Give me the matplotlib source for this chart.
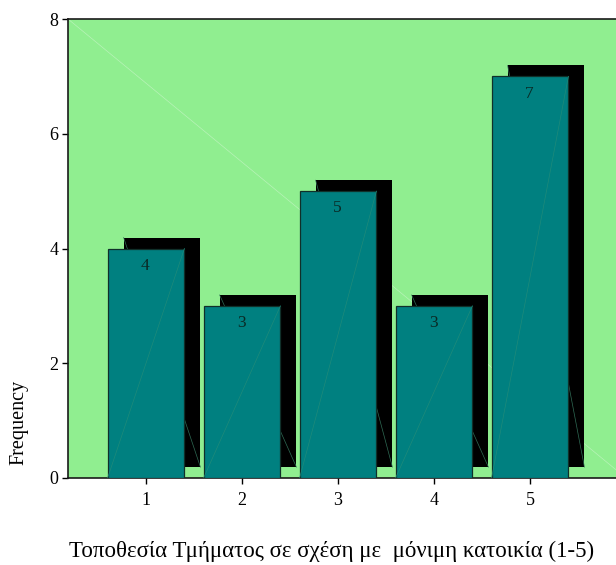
import matplotlib
matplotlib.use("Agg")
import matplotlib.pyplot as plt
from matplotlib.patches import Rectangle

# ── Data ──────────────────────────────────────────────────────────────────────
categories = [1, 2, 3, 4, 5]
frequencies = [4, 3, 5, 3, 7]
yticks = [0, 2, 4, 6, 8]
xlabel = "Τοποθεσία Τμήματος σε σχέση με  μόνιμη κατοικία (1-5)"
ylabel = "Frequency"

# ── Style ─────────────────────────────────────────────────────────────────────
plt.rcParams["font.family"] = ["Liberation Serif", "DejaVu Serif"]
BG = "#90ee90"
BAR = "#008080"
BAR_W = 0.8
SH_DX, SH_DY = 0.167, 0.19   # shadow offset (data units)

fig = plt.figure(figsize=(6.16, 5.65), dpi=100)
ax = fig.add_axes([68 / 616, 87 / 565, 558 / 616, 459 / 565])
ax.set_facecolor(BG)
ax.set_xlim(0.1875, 6.0)
ax.set_ylim(0, 8)

# faint background diagonal
ax.plot([0, 1], [1, 0], transform=ax.transAxes, color="#b8f3b8", lw=0.5, zorder=1)

for x, v in zip(categories, frequencies):
    left = x - BAR_W / 2
    # shadow
    ax.add_patch(Rectangle((left + SH_DX, SH_DY), BAR_W, v, facecolor="black",
                           edgecolor="none", zorder=2))
    ax.plot([left + SH_DX, left + SH_DX + BAR_W], [v + SH_DY, SH_DY],
            color="#2f6b55", lw=0.5, zorder=2.5)
    # bar
    ax.add_patch(Rectangle((left, 0), BAR_W, v, facecolor=BAR,
                           edgecolor="#10302a", lw=0.9, zorder=3))
    ax.plot([left, left + BAR_W], [0, v], color="#1f8a7a", lw=0.5, zorder=3.5)
    ax.text(x - 0.01, v - 0.3, str(v), ha="center", va="center",
            fontsize=12.5, color="#0a2a25", zorder=4)

ax.set_xticks(categories)
ax.set_yticks(yticks)
ax.tick_params(axis="both", direction="out", length=4, width=1, labelsize=13,
               pad=3)
ax.tick_params(axis="x", pad=6)
for s in ["left", "bottom", "top"]:
    ax.spines[s].set_linewidth(1.2)
    ax.spines[s].set_color("#1a1a1a")
ax.spines["right"].set_visible(False)

fig.text(332 / 616, 1 - 551 / 565, xlabel, ha="center", va="center",
         fontsize=16.5)
fig.text(19 / 616, 1 - 422 / 565, ylabel, ha="center", va="center",
         rotation=90, fontsize=14.5)

plt.savefig("out.png", dpi=100)
